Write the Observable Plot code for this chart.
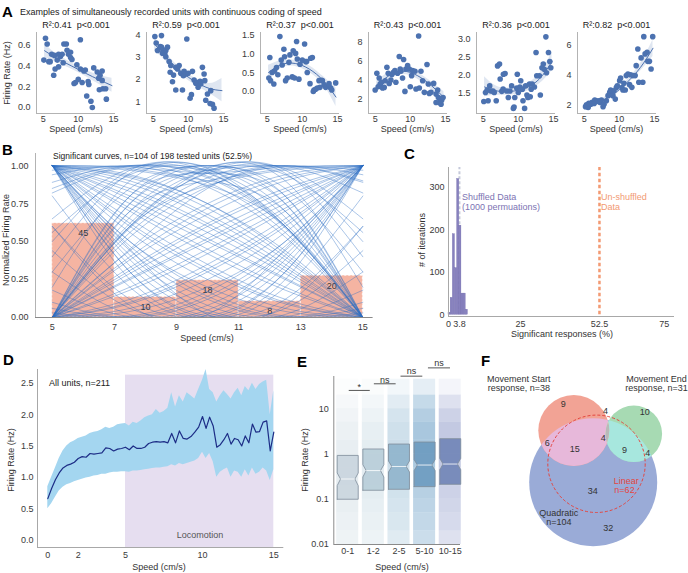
<!DOCTYPE html>
<html><head><meta charset="utf-8">
<script src="https://cdn.jsdelivr.net/npm/d3@7"></script>
<script src="https://cdn.jsdelivr.net/npm/@observablehq/plot@0.6"></script>
<style>
body{margin:0;background:#fff;}
#root{position:relative;width:688px;height:573px;overflow:hidden;background:#fff;font-family:"Liberation Sans",Arial,Helvetica,sans-serif;}
</style></head>
<body><div id="root"></div>
<script>
// ---------------- DATA ----------------
// Panel A: six example units (speed cm/s, firing rate Hz)
const aAxisX = [36, 146, 260, 367.5, 476, 576.5];
const aTitles = ["R²:0.41  p<0.001","R²:0.59  p<0.001","R²:0.37  p<0.001","R²:0.43  p<0.001","R²:0.36  p<0.001","R²:0.82  p<0.001"];
const aYDomains = [[-0.058,0.72],[0.47,4.12],[-0.59,1.58],[0.53,9.0],[0.94,3.17],[1.41,6.86]];
const aYTicks = [[0,0.2,0.4,0.6],[1,2,3,4],[0,0.5,1,1.5],[2,4,6,8],[1.5,2,2.5,3],[2,4,6]];
const aYFormats = [".1f","d",".1f","d",".1f","d"];
const a1 = [[5.33,.665],[5.57,.61],[5.1,.455],[5.8,.44],[6.0,.44],[6.2,.51],[6.6,.5],[6.7,.37],[6.5,.31],[7.0,.455],[7.2,.51],[7.45,.49],[7.7,.51],[7.2,.39],[7.85,.43],[7.95,.61],[8.3,.61],[8.4,.55],[8.6,.51],[8.9,.53],[8.9,.48],[9.1,.46],[9.4,.23],[9.6,.24],[9.8,.41],[10.0,.27],[10.3,.65],[10.3,.37],[10.55,.24],[10.8,.35],[11.0,.36],[11.4,.25],[11.5,.22],[11.2,.11],[11.8,.06],[12.0,0],[12.2,.38],[12.7,.34],[12.9,.28],[13.0,.17],[13.4,.35],[13.1,.31],[13.5,.18],[13.9,.18],[14.0,.08],[13.4,.26]];
const a2 = [[5.24,3.94],[6.18,3.98],[5.43,3.65],[5.62,3.31],[6.0,3.49],[6.18,3.46],[6.42,3.34],[6.33,3.19],[6.66,3.16],[6.8,3.31],[6.8,3.03],[7.04,3.46],[7.27,2.81],[7.51,2.63],[7.42,2.33],[7.75,1.9],[7.9,2.2],[8.22,2.55],[8.46,2.48],[8.22,1.53],[8.7,2.63],[8.93,2.28],[9.17,1.53],[9.31,2.17],[9.41,2.37],[9.64,2.25],[9.79,3.83],[9.98,2.28],[10.26,1.16],[10.45,1.32],[10.59,2.37],[10.83,1.98],[11.07,1.83],[11.3,1.87],[11.4,1.65],[11.68,1.92],[11.78,1.8],[12.01,2.55],[12.25,2.25],[12.49,1.07],[12.73,1.35],[13.2,1.5],[13.1,0.92],[13.44,0.89],[13.67,0.71],[12.35,1.95]];
const a3 = [[5.24,.36],[5.48,.29],[5.38,.91],[5.71,.51],[5.95,.2],[6.05,.55],[6.33,.64],[6.52,.45],[6.81,1.47],[7.0,.84],[7.14,.71],[7.38,1.13],[7.48,.93],[7.62,.29],[7.86,.36],[8.1,.78],[8.24,.98],[8.57,.39],[8.71,1.09],[8.9,.36],[9.05,1.02],[9.19,1.34],[9.29,.87],[9.52,.33],[9.67,.73],[10.0,.84],[10.33,1.27],[10.48,.8],[10.62,.8],[10.71,.51],[11.1,.21],[11.19,.89],[11.43,.91],[11.57,0],[11.67,.04],[11.9,.06],[12.14,.09],[12.38,.29],[12.52,.11],[12.71,.3],[12.86,.29],[13.1,.18],[13.33,.11],[13.81,.13],[14.05,.09],[14.2,.04],[14.76,.23],[13.81,.21]];
const a4 = [[5.0,2.98],[5.24,4.74],[5.43,3.33],[5.57,4.25],[5.71,3.61],[5.9,3.79],[6.05,3.19],[6.29,3.26],[6.43,3.96],[6.67,5.37],[6.86,4.74],[7.0,3.68],[7.24,4.04],[7.38,4.6],[7.62,4.84],[7.81,5.02],[7.95,3.79],[8.19,4.74],[8.43,6.49],[8.57,5.19],[8.67,4.95],[8.9,4.25],[9.05,6.18],[9.24,2.84],[9.38,5.19],[9.62,5.54],[9.86,5.19],[10.0,3.33],[10.19,4.49],[10.33,5.02],[10.67,4.95],[10.81,3.09],[11.19,8.63],[11.29,3.19],[11.52,4.95],[11.76,3.96],[12.0,2.74],[12.38,5.65],[12.57,3.61],[12.71,2.63],[12.95,2.74],[13.33,3.68],[13.67,2.56],[13.9,2.98],[14.0,2.21],[14.14,1.68],[14.29,1.93],[14.48,1.93],[14.67,2.21],[14.38,1.51],[13.67,1.68]];
const a5 = [[5.09,1.27],[5.33,1.52],[5.56,1.58],[5.7,1.29],[5.93,1.7],[6.12,1.56],[6.4,1.56],[6.58,1.52],[6.86,1.29],[7.05,2.25],[7.33,2.3],[7.42,1.89],[7.65,1.55],[7.88,2.02],[8.12,2.04],[7.84,1.61],[8.35,1.56],[8.58,1.38],[8.81,1.56],[9.05,1.7],[9.3,1.08],[9.4,1.12],[9.5,1.38],[9.77,1.64],[9.86,2.02],[10.0,1.52],[10.23,1.67],[10.35,1.84],[10.58,1.61],[10.67,1.29],[10.9,1.08],[11.05,1.7],[11.23,1.45],[11.37,1.38],[11.6,1.75],[11.7,1.4],[11.84,1.61],[11.98,1.75],[12.3,1.67],[12.53,2.62],[12.63,1.98],[13.0,1.98],[13.14,1.45],[13.37,2.2],[13.56,2.3],[13.7,2.16],[13.93,3.05],[14.02,2.06],[14.3,2.62],[14.49,2.37],[14.63,2.2]];
const a6 = [[5.19,1.87],[5.33,2.0],[5.57,1.82],[5.66,2.09],[5.94,2.04],[6.13,2.16],[6.42,2.09],[6.51,2.31],[6.75,2.22],[6.98,2.27],[7.22,2.16],[7.45,2.31],[7.69,1.87],[7.83,2.04],[8.16,2.27],[8.4,2.61],[8.63,2.83],[8.77,2.99],[8.96,2.67],[9.1,2.61],[9.25,2.94],[9.43,2.38],[9.58,3.16],[9.72,3.28],[10.05,3.62],[10.19,3.8],[10.38,3.16],[10.52,2.99],[10.66,3.44],[10.85,2.99],[11.0,3.96],[11.23,4.07],[11.46,3.35],[11.6,4.02],[11.79,3.17],[11.93,3.96],[12.26,3.96],[12.41,4.63],[12.64,5.75],[12.78,3.51],[13.11,5.15],[13.35,3.51],[13.49,6.58],[13.68,5.42],[13.96,5.53],[14.06,4.92],[14.29,4.92],[14.53,4.4],[14.76,6.58]];
const aPoints = [a1,a2,a3,a4,a5,a6];
const aFitX = [5.2,7,9,11,13,14.8];
const aFitMid = [[.545,.47,.4,.33,.265,.21],[3.6,2.95,2.35,1.9,1.6,1.5],[.51,.72,.75,.6,.29,-.15],[3.4,4.5,4.95,4.5,3.45,2.2],[1.67,1.56,1.55,1.64,1.89,2.37],[1.85,2.15,2.65,3.45,4.5,5.8]];
const aFitLo = [[.48,.43,.37,.3,.22,.145],[3.3,2.78,2.2,1.75,1.38,1.0],[.32,.62,.67,.51,.18,-.4],[2.9,4.15,4.6,4.15,3.05,1.6],[1.4,1.44,1.45,1.53,1.75,2.12],[1.62,2.0,2.5,3.3,4.25,5.25]];
const aFitHi = [[.61,.51,.43,.36,.31,.28],[3.9,3.12,2.5,2.05,1.82,2.05],[.7,.82,.83,.69,.4,.1],[3.9,4.85,5.3,4.85,3.85,2.8],[1.95,1.68,1.65,1.75,2.03,2.62],[2.08,2.3,2.8,3.6,4.75,6.35]];

// Panel B: normalized tuning curves sampled at bX, plus peak-speed histogram bars
const bX = [5,7.5,10,12.5,15];
const bCurves = [
[1,.97,.87,.6,0],[1,.94,.75,.44,0],[1,.9,.68,.38,0],[1,.85,.62,.33,0],[1,.8,.56,.29,0],[1,.75,.5,.25,0],[1,.7,.42,.18,0],[1,.65,.35,.12,0],[1,.6,.3,.09,0],[1,.56,.25,.06,0],
[1,.98,.9,.7,0],[1,.92,.72,.4,0],[1,.5,.2,.04,0],[1,.78,.52,.26,0],[1,.88,.66,.35,0],
[1,.41,.08,.005,.18],[1,.47,.14,.004,.06],[1,.34,.03,.06,.44],[1,.25,0,.25,1],[1,.44,.12,0,.1],[1,.38,.05,.02,.3],[1,.5,.17,.01,.03],[1,.3,.01,.12,.6],
[0,.6,.87,.97,1],[0,.44,.75,.94,1],[0,.38,.68,.9,1],[0,.33,.62,.85,1],[0,.29,.56,.8,1],[0,.25,.5,.75,1],[0,.18,.42,.7,1],[0,.12,.35,.65,1],[0,.09,.3,.6,1],[0,.06,.25,.56,1],[0,.04,.2,.5,1],[0,.26,.52,.78,1],[0,.4,.72,.92,1],[0,.7,.9,.98,1],
[.18,.005,.08,.41,1],[.44,.06,.03,.34,1],[.06,.004,.14,.47,1],[.1,0,.12,.44,1],[.3,.02,.05,.38,1],[.03,.01,.17,.5,1],[.6,.12,.01,.3,1],
[0,.75,1,.75,0],[0,.59,.92,.995,.82],[.82,.995,.92,.59,0],[.56,.94,.97,.66,0],[0,.66,.97,.94,.56],[.94,.996,.86,.53,0],[0,.53,.86,.996,.94],[.3,.85,1,.8,0],[0,.8,1,.85,.3],[.2,.9,.98,.6,0],[0,.6,.98,.9,.2],
[.89,1,.89,.56,0],[0,.56,.89,1,.89],[.4,.95,.99,.7,0],[0,.7,.99,.95,.4],[.65,.98,.95,.62,0],[0,.62,.95,.98,.65],
[1,.99,.95,.8,0],[0,.8,.95,.99,1],[.97,1,.97,.75,0],[0,.75,.97,1,.97],[.8,.2,0,.3,1],[1,.3,0,.2,.8],[.6,.08,.02,.45,1],[1,.45,.02,.08,.6],
[1,.83,.6,.31,0],[1,.72,.45,.2,0],[1,.62,.32,.1,0],[0,.31,.6,.83,1],[0,.2,.45,.72,1],[0,.1,.32,.62,1],[.5,.97,.96,.6,0],[0,.6,.96,.97,.5],[.85,1,.93,.6,0],[0,.45,.85,1,.9],[1,.93,.75,.42,0]
];
const bBarStart = [5,7,9,11,13];
const bBarEnd = [7,9,11,13,15];
const bBarHeight = [0.62,0.135,0.245,0.107,0.275];
const bBarCount = [45,10,18,8,20];

// Panel C: shuffled-data histogram
const cBinStart = [0,0.75,1.5,2.25,3.0,3.75,4.5,5.25,6.0];
const cBinEnd = [0.75,1.5,2.25,3.0,3.75,4.5,5.25,6.0,6.75];
const cCounts = [5,40,190,110,320,210,50,50,12];
const cShuffledMean = 3.8;
const cUnshuffled = 52.5;
const cXTicks = [0,3.8,25,52.5,75];

// Panel D: population firing rate vs speed
const dX = [0,0.25,0.5,0.75,1,1.25,1.5,1.75,2,2.25,2.5,2.75,3,3.25,3.5,3.75,4,4.25,4.5,4.75,5,5.25,5.5,5.75,6,6.25,6.5,6.75,7,7.25,7.5,7.75,8,8.25,8.5,8.75,9,9.25,9.5,9.75,10,10.25,10.5,10.75,11,11.25,11.5,11.75,12,12.25,12.5,12.75,13,13.25,13.5,13.75,14,14.25,14.5,14.75,15];
const dMean = [.66,.82,.96,1.07,1.15,1.19,1.21,1.24,1.3,1.33,1.32,1.38,1.37,1.38,1.39,1.47,1.46,1.42,1.45,1.46,1.48,1.44,1.5,1.46,1.46,1.48,1.54,1.56,1.57,1.56,1.57,1.55,1.7,1.55,1.74,1.62,1.61,1.65,1.72,1.8,1.97,1.78,1.96,1.82,1.48,1.52,1.6,1.7,1.53,1.62,1.6,1.5,1.66,1.55,1.85,1.72,1.73,1.88,1.9,1.42,1.72];
const dHi = [.85,1.0,1.15,1.3,1.42,1.5,1.55,1.58,1.62,1.64,1.66,1.7,1.72,1.73,1.76,1.8,1.78,1.8,1.84,1.85,1.86,1.82,1.88,1.86,1.9,1.95,1.98,2.0,2.08,2.02,2.05,2.1,2.35,2.12,2.3,2.2,2.35,2.3,2.25,2.4,2.55,2.72,2.4,2.35,2.2,2.3,2.38,2.32,2.25,2.35,2.42,2.3,2.45,2.38,2.5,2.4,2.48,2.52,2.55,2.0,2.38];
const dLo = [.5,.58,.68,.78,.84,.88,.9,.93,.95,.97,.99,1.0,1.02,1.03,1.05,1.05,1.07,1.08,1.08,1.09,1.09,1.08,1.1,1.1,1.11,1.12,1.13,1.14,1.15,1.15,1.16,1.17,1.2,1.18,1.22,1.2,1.22,1.24,1.26,1.3,1.4,1.3,1.38,1.25,1.0,1.08,1.12,1.15,1.0,1.1,1.08,1.0,1.12,1.02,1.15,1.05,1.08,1.15,1.1,0.95,1.12];
const dLocomotion = [5,15];

// Panel E: firing rate per speed bin (log scale)
const eCats = ["0-1","1-2","2-5","5-10","10-15"];
const eQ1 = [0.1,0.158,0.166,0.19,0.214];
const eQ3 = [0.93,1.29,1.66,1.84,2.18];
const eMed = [0.28,0.43,0.53,0.57,0.6];
const eNotchLo = [0.2,0.31,0.4,0.43,0.45];
const eNotchHi = [0.38,0.58,0.7,0.75,0.8];
const eBoxFill = ["#c8d4dd","#b5cbd7","#8cb2ca","#6898bd","#6b80b4"];
const eCloudColor = ["#bfcfda","#b9cfdb","#97bcd4","#6fa2c8","#8794c6"];
const eCloudEdges = [0.01,0.02,0.05,0.1,0.2,0.5,1,2,5,10,20,45];
const eCloudOpacity = [
  [.26,.30,.34,.38,.40,.40,.36,.30,.22,.14,.05],
  [.26,.30,.34,.38,.40,.40,.38,.34,.26,.17,.07],
  [.30,.36,.40,.44,.48,.50,.50,.46,.40,.28,.12],
  [.36,.42,.46,.50,.54,.58,.60,.60,.52,.40,.18],
  [.28,.34,.38,.42,.46,.50,.52,.50,.42,.28,.09]
];
const eSigX1 = [0.04,1.02,2.06,3.13];
const eSigX2 = [0.86,1.87,2.91,3.99];
const eSigY = [25.4,35.6,52.5,80];
const eSigTextY = [30.3,43.2,66.5,99.7];
const eSigLabel = ["*","ns","ns","ns"];

// Panel F: Venn diagram
const vennName = ["quad","start","end"];
const vennCX = [592.7,573.3,633.3];
const vennCY = [481.7,430,433.3];
const vennR = [64,35.5,28.3];
const vennFill = ["#9aabd7","#f2a395","#a7dab3"];
const linearCircle = [596,463.3,48.7];
const fLabels = ["9","4","10","6","15","4","9","4","34","32"];
const fLabelX = [562.7,605,644.3,546.7,574.3,602.7,624,647.3,592.3,607.7];
const fLabelY = [404,411,411.7,442.7,448.3,437.3,449.3,452.3,491,527.3];

// ---------------- RENDER ----------------
const FONT = '"Liberation Sans", Arial, Helvetica, sans-serif';
const root = document.getElementById("root");
const baseStyle = {fontFamily: FONT, fontSize: "9px", color: "#3a3a3a", background: "none", overflow: "visible"};

function addText(txt, x, y, o = {}) {
  const d = document.createElement("div");
  d.textContent = txt;
  Object.assign(d.style, {position: "absolute", left: x + "px", top: y + "px", fontSize: (o.size || 9) + "px",
    color: o.color || "#333", fontWeight: o.bold ? "bold" : "normal", whiteSpace: "pre", lineHeight: "1"});
  const ax = o.anchor === "middle" ? "-50%" : o.anchor === "end" ? "-100%" : "0";
  d.style.transform = `translate(${ax},-50%)` + (o.rotate ? ` rotate(${o.rotate}deg)` : "");
  root.appendChild(d);
}
function place(svg, left, top, extra = {}) {
  Object.assign(svg.style, {position: "absolute", left: left + "px", top: top + "px"}, extra);
  root.appendChild(svg);
}

// ---- Panel A ----
addText("A", 2, 11, {bold: true, size: 15, color: "#000"});
addText("Examples of simultaneously recorded units with continuous coding of speed", 20, 12, {size: 9, color: "#222"});
addText("Firing Rate (Hz)", 7, 73, {anchor: "middle", rotate: -90});
aPoints.forEach((pts, k) => {
  const ML = 30, MR = 6, MT = 14, MB = 22;
  const fit = aFitX.map((x, i) => ({x, y: aFitMid[k][i], lo: aFitLo[k][i], hi: aFitHi[k][i]}));
  const yd = aYDomains[k];
  const p = Plot.plot({
    width: ML + 79 + MR, height: MT + 81 + MB,
    marginLeft: ML, marginRight: MR, marginTop: MT, marginBottom: MB,
    style: baseStyle,
    x: {domain: [4.05, 15.3], ticks: [5, 10, 15], tickSize: 0, tickPadding: 2, label: null},
    y: {domain: yd, ticks: aYTicks[k], tickFormat: aYFormats[k], tickSize: 0, tickPadding: 6, label: null},
    marks: [
      Plot.ruleX([4.05], {stroke: "#b3b3b3", strokeWidth: 1}),
      Plot.ruleY([yd[0]], {stroke: "#b3b3b3", strokeWidth: 1}),
      Plot.dot(pts, {x: d => d[0], y: d => d[1], r: 2.8, fill: "#4c72b0", stroke: "none"}),
      Plot.areaY(fit, {x: "x", y1: "lo", y2: "hi", fill: "#4c72b0", fillOpacity: 0.18, curve: "natural"}),
      Plot.lineY(fit, {x: "x", y: "y", stroke: "#4c72b0", strokeWidth: 1, curve: "natural"})
    ]
  });
  place(p, aAxisX[k] - ML, 18);
  addText(aTitles[k], aAxisX[k] + 40, 24.5, {anchor: "middle", color: "#222"});
  addText("Speed (cm/s)", aAxisX[k] + 40, 129, {anchor: "middle"});
});

// ---- Panel B ----
addText("B", 2, 149, {bold: true, size: 15, color: "#000"});
addText("Significant curves, n=104 of 198 tested units (52.5%)", 53, 156, {size: 8.5, color: "#222"});
addText("Normalized Firing Rate", 5.5, 240, {anchor: "middle", rotate: -90});
addText("Speed (cm/s)", 207, 338, {anchor: "middle"});
{
  const bars = bBarStart.map((s, i) => ({x1: s, x2: bBarEnd[i], h: bBarHeight[i], n: bBarCount[i]}));
  const lines = bCurves.flatMap((vals, id) => bX.map((x, j) => ({id, x, y: vals[j]})));
  const p = Plot.plot({
    width: 381, height: 200, marginLeft: 35, marginRight: 8.4, marginTop: 13, marginBottom: 23,
    style: baseStyle,
    x: {domain: [4.46, 15.33], ticks: [5, 7, 9, 11, 13, 15], tickSize: 0, tickPadding: 6, label: null},
    y: {domain: [0, 1.08], ticks: [0, 0.25, 0.5, 0.75, 1], tickFormat: ".2f", tickSize: 0, tickPadding: 7, label: null},
    marks: [
      Plot.rectY(bars, {x1: "x1", x2: "x2", y: "h", fill: "#f5b4a2", stroke: "white", strokeWidth: 0.8, strokeDasharray: "2,2"}),
      Plot.text(bars, {x: d => (d.x1 + d.x2) / 2, y: "h", text: "n", dy: 10, fill: "#333", fontSize: 9}),
      Plot.line(lines, {x: "x", y: "y", z: "id", curve: "natural", stroke: "#2f6fc3", strokeOpacity: 0.45, strokeWidth: 0.9, clip: true}),
      Plot.ruleX([4.46], {stroke: "#b3b3b3"}),
      Plot.ruleY([0], {stroke: "#8a8a8a"})
    ]
  });
  place(p, 0, 140);
}

// ---- Panel C ----
addText("C", 404, 153, {bold: true, size: 15, color: "#000"});
addText("# of iterations", 422, 240, {anchor: "middle", rotate: -90});
addText("Significant responses (%)", 562, 334, {anchor: "middle"});
addText("Shuffled Data", 462, 197, {color: "#7c73b3"});
addText("(1000 permuations)", 462, 206.5, {color: "#7c73b3"});
addText("Un-shuffled", 601, 197, {color: "#f29a74"});
addText("Data", 601, 206.5, {color: "#f29a74"});
{
  const bins = cBinStart.map((s, i) => ({x1: s, x2: cBinEnd[i], n: cCounts[i]}));
  const p = Plot.plot({
    width: 266, height: 179, marginLeft: 30, marginRight: 10, marginTop: 10, marginBottom: 20,
    style: baseStyle,
    x: {domain: [0, 78.6], ticks: cXTicks, tickFormat: d => String(d), tickSize: 0, tickPadding: 4, label: null},
    y: {domain: [-4, 347], ticks: [0, 100, 200, 300], tickSize: 0, tickPadding: 4, label: null},
    marks: [
      Plot.ruleX([cShuffledMean], {y1: 0, y2: 347, stroke: "#c5c9da", strokeWidth: 2, strokeDasharray: "3,2"}),
      Plot.rect(bins, {x1: "x1", x2: "x2", y1: 0, y2: "n", fill: "#8781be", stroke: "#6f69a8", strokeWidth: 0.3}),
      Plot.ruleX([cUnshuffled], {y1: 0, y2: 347, stroke: "#f39a73", strokeWidth: 2.5, strokeDasharray: "3.5,2.5"}),
      Plot.ruleX([0], {stroke: "#a8a8a8"}),
      Plot.ruleY([-4], {stroke: "#a8a8a8"})
    ]
  });
  place(p, 418, 157);
}

// ---- Panel D ----
addText("D", 3, 359, {bold: true, size: 15, color: "#000"});
addText("Firing Rate (Hz)", 11, 460, {anchor: "middle", rotate: -90});
addText("Speed (cm/s)", 159, 567, {anchor: "middle"});
{
  const rows = dX.map((x, i) => ({x, m: dMean[i], lo: dLo[i], hi: dHi[i]}));
  const p = Plot.plot({
    width: 290, height: 207, marginLeft: 37, marginRight: 6.7, marginTop: 9, marginBottom: 20,
    style: baseStyle,
    x: {type: "linear", domain: [-0.68, 0, 2, 5, 10, 15, 15.7], range: [37, 47.3, 77.7, 125, 202, 273.3, 283.3], ticks: [0, 2, 5, 10, 15], tickSize: 0, tickPadding: 4, label: null},
    y: {domain: [-0.12, 2.72], ticks: [0, 0.5, 1, 1.5, 2, 2.5], tickFormat: ".1f", tickSize: 0, tickPadding: 4, label: null},
    marks: [
      Plot.rect([dLocomotion], {x1: d => d[0], x2: d => d[1], y1: -0.12, y2: 2.63, fill: "#e6def0"}),
      Plot.areaY(rows, {x: "x", y1: "lo", y2: "hi", fill: "#a4d6f0"}),
      Plot.lineY(rows, {x: "x", y: "m", stroke: "#1d2d86", strokeWidth: 1.2}),
      Plot.ruleX([-0.68], {stroke: "#a8a8a8"}),
      Plot.ruleY([-0.12], {stroke: "#a8a8a8"})
    ]
  });
  place(p, 0, 360);
}
addText("All units, n=211", 49, 383, {color: "#222"});
addText("Locomotion", 200, 535, {anchor: "middle", color: "#555"});

// ---- Panel E ----
addText("E", 297, 361, {bold: true, size: 15, color: "#000"});
addText("Firing Rate (Hz)", 305, 460, {anchor: "middle", rotate: -90});
addText("Speed (cm/s)", 402, 567, {anchor: "middle"});
{
  const hw = 0.41, tip = 0.28;
  const cloud = eCats.flatMap((c, i) => eCloudOpacity[i].map((op, k) => ({i, y1: eCloudEdges[k], y2: eCloudEdges[k + 1], op})));
  const boxMarks = eCats.map((c, i) => {
    const pts = [[i - hw, eQ1[i]], [i - hw, eNotchLo[i]], [i - tip, eMed[i]], [i - hw, eNotchHi[i]], [i - hw, eQ3[i]],
                 [i + hw, eQ3[i]], [i + hw, eNotchHi[i]], [i + tip, eMed[i]], [i + hw, eNotchLo[i]], [i + hw, eQ1[i]], [i - hw, eQ1[i]]];
    return Plot.line(pts, {x: d => d[0], y: d => d[1], fill: eBoxFill[i], fillOpacity: 0.85, stroke: "#7f8d9b", strokeWidth: 0.8});
  });
  const sig = eSigLabel.map((t, k) => ({x1: eSigX1[k], x2: eSigX2[k], y: eSigY[k], ty: eSigTextY[k], t}));
  const p = Plot.plot({
    width: 182, height: 214, marginLeft: 53.3, marginRight: 2, marginTop: 24, marginBottom: 22,
    style: baseStyle,
    x: {domain: [-0.543, 4.40], ticks: [0, 1, 2, 3, 4], tickFormat: i => eCats[i], tickSize: 0, tickPadding: 3, label: null},
    y: {type: "log", domain: [0.01, 51.6], ticks: [0.01, 0.1, 1, 10], tickFormat: d => String(d), tickSize: 0, tickPadding: 5, label: null},
    marks: [
      Plot.rect(cloud, {x1: d => d.i - 0.43, x2: d => d.i + 0.43, y1: "y1", y2: "y2", fill: d => eCloudColor[d.i], fillOpacity: d => d.op}),
      ...boxMarks,
      Plot.link(eCats, {x1: (c, i) => i - tip, x2: (c, i) => i + tip, y1: (c, i) => eMed[i], y2: (c, i) => eMed[i], stroke: "white", strokeOpacity: 0.8, strokeWidth: 1}),
      Plot.link(sig, {x1: "x1", x2: "x2", y1: "y", y2: "y", stroke: "#444", strokeWidth: 0.9}),
      Plot.text(sig, {x: d => (d.x1 + d.x2) / 2, y: "ty", text: "t", fill: "#333", fontSize: 9}),
      Plot.ruleX([-0.543], {stroke: "#8a8a8a"}),
      Plot.ruleY([0.01], {stroke: "#8a8a8a"})
    ]
  });
  place(p, 280, 352);
}

// ---- Panel F ----
addText("F", 481, 360, {bold: true, size: 15, color: "#000"});
{
  const idx = [0, 1, 2];
  const circ = (i, fill, tag) => Plot.dot([i], {x: j => vennCX[j], y: j => vennCY[j], r: j => vennR[j], fill, stroke: "none", ariaDescription: tag});
  const labels = fLabels.map((t, i) => ({t, x: fLabelX[i], y: fLabelY[i]}));
  const p = Plot.plot({
    width: 228, height: 243, margin: 0,
    style: baseStyle,
    x: {domain: [460, 688], range: [0, 228], axis: null},
    y: {domain: [330, 573], range: [0, 243], axis: null},
    r: {type: "identity"},
    marks: [
      circ(0, vennFill[0], "v-quad"),
      circ(1, vennFill[1], "v-start"),
      circ(2, vennFill[2], "v-end"),
      circ(1, "#e7b8da", "v-pink"),
      circ(2, "#a7e7de", "v-cyan"),
      circ(1, "#f3d3b2", "v-peach"),
      circ(1, "#b9b9b9", "v-gray"),
      Plot.dot([linearCircle], {x: d => d[0], y: d => d[1], r: d => d[2], fill: "none", stroke: "#e4453f", strokeWidth: 1, strokeDasharray: "3,2"}),
      Plot.text(labels, {x: "x", y: "y", text: "t", fill: "#333", fontSize: 9}),
      Plot.text(["Movement Start", "response, n=38"], {x: 518.3, y: (d, i) => 379 + i * 9, text: d => d, fill: "#333", fontSize: 9}),
      Plot.text(["Movement End", "response, n=31"], {x: 656, y: (d, i) => 379 + i * 9, text: d => d, fill: "#333", fontSize: 9}),
      Plot.text(["Linear", "n=62"], {x: [625.7, 624], y: [480.7, 489.5], text: d => d, fill: "#e4453f", fontSize: 9}),
      Plot.text(["Quadratic", "n=104"], {x: 558.3, y: (d, i) => 512.7 + i * 9.4, text: d => d, fill: "#333", fontSize: 9})
    ]
  });
  const svg = d3.select(p);
  const defs = svg.insert("defs", ":first-child");
  idx.forEach(i => {
    defs.append("clipPath").attr("id", "clip-" + vennName[i]).append("circle")
      .attr("cx", vennCX[i] - 460).attr("cy", vennCY[i] - 330).attr("r", vennR[i]);
  });
  const clipG = (tag, clip) => svg.select(`g[aria-description="${tag}"]`).attr("clip-path", `url(#clip-${clip})`);
  clipG("v-pink", "quad");
  clipG("v-cyan", "quad");
  clipG("v-peach", "end");
  const gray = clipG("v-gray", "end").node();
  if (gray) {
    const wrap = document.createElementNS("http://www.w3.org/2000/svg", "g");
    wrap.setAttribute("clip-path", "url(#clip-quad)");
    gray.parentNode.insertBefore(wrap, gray);
    wrap.appendChild(gray);
  }
  place(p, 460, 330);
}
</script>
</body></html>
